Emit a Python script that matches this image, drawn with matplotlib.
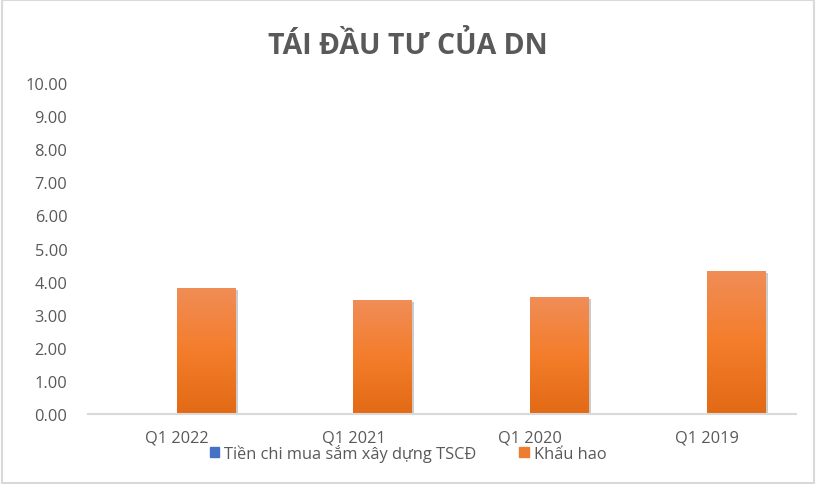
import numpy as np
import matplotlib
matplotlib.use("Agg")
import matplotlib.pyplot as plt
import matplotlib.patheffects as pe
from matplotlib.colors import LinearSegmentedColormap
from matplotlib.patches import Rectangle

plt.rcParams['font.family'] = ['Open Sans', 'DejaVu Sans']

categories = ['Q1 2022', 'Q1 2021', 'Q1 2020', 'Q1 2019']
capex = [0.0, 0.0, 0.0, 0.0]
khau_hao = [3.81, 3.44, 3.53, 4.32]
y_ticks = [0, 1, 2, 3, 4, 5, 6, 7, 8, 9, 10]

txt = '#595959'
blue = '#4472C4'
orange = '#ED7D31'

fig = plt.figure(figsize=(8.16, 4.85), dpi=100)
ax = fig.add_axes([0.108, 0.144, 0.867, 0.683])

x = np.arange(len(categories))
w = 1 / 3
b1 = ax.bar(x - w / 2, capex, w, color=blue, label='Tiền chi mua sắm xây dựng TSCĐ')
b2 = ax.bar(x + w / 2, khau_hao, w, color=orange, label='Khấu hao',
            path_effects=[pe.SimplePatchShadow(offset=(1.5, -1.5), shadow_rgbFace='#999999', alpha=0.5), pe.Normal()])

# gradient fill on the orange bars
cmap = LinearSegmentedColormap.from_list('og', ['#E26A15', '#F47D2B', '#F08D57'])
grad = np.linspace(0, 1, 256).reshape(-1, 1)
for bar in b2:
    bx, by = bar.get_x(), bar.get_y()
    bw, bh = bar.get_width(), bar.get_height()
    im = ax.imshow(grad, cmap=cmap, origin='lower', aspect='auto',
                   extent=[bx, bx + bw, by, by + bh], zorder=bar.get_zorder() + 0.1)
    im.set_clip_path(bar)

ax.set_xlim(-0.5, len(categories) - 0.5)
ax.set_ylim(0, 10)
ax.set_yticks(y_ticks)
ax.set_yticklabels([f'{v:.2f}' for v in y_ticks])
ax.set_xticks(x)
ax.set_xticklabels(categories)
ax.tick_params(axis='both', length=0, colors=txt, labelsize=11.8)
ax.tick_params(axis='y', pad=15)
ax.tick_params(axis='x', pad=11)

for s in ['top', 'right', 'left']:
    ax.spines[s].set_visible(False)
ax.spines['bottom'].set_color('#D9D9D9')
ax.spines['bottom'].set_linewidth(1.5)

fig.suptitle('TÁI ĐẦU TƯ CỦA DN', x=0.5, y=0.935, fontsize=20.5, fontweight='bold', color=txt)

handles = [Rectangle((0, 0), 1, 1, color=blue), Rectangle((0, 0), 1, 1, color=orange)]
fig.legend(handles, ['Tiền chi mua sắm xây dựng TSCĐ', 'Khấu hao'], loc='center',
           bbox_to_anchor=(0.5, 0.064), ncol=2, frameon=False, fontsize=11.8,
           labelcolor=txt, handlelength=0.6, handleheight=0.6, handletextpad=0.3,
           columnspacing=2.6)

fig.patches.append(Rectangle((0.002, 0.002), 0.996, 0.996, transform=fig.transFigure,
                             fill=False, edgecolor='#D9D9D9', linewidth=1.5))

fig.savefig('out.png', dpi=100)
